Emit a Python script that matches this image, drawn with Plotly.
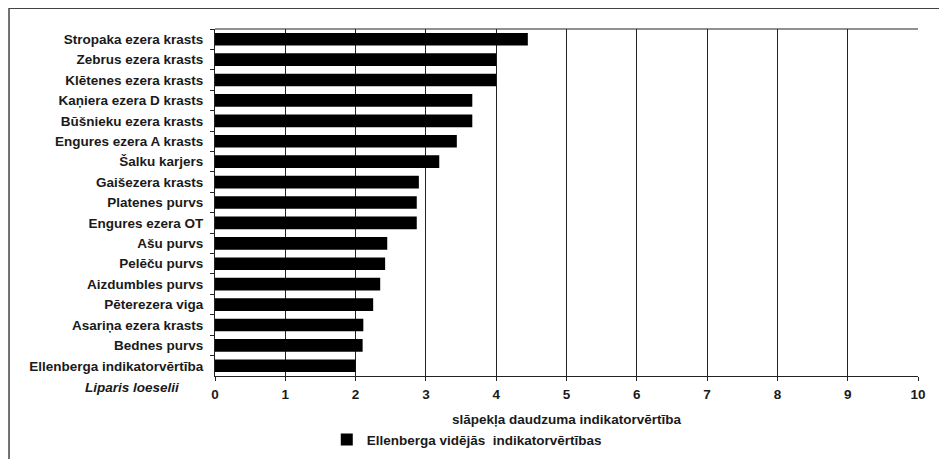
import plotly.graph_objects as go

# Data (top to bottom as shown)
sites = [
    "Stropaka ezera krasts",
    "Zebrus ezera krasts",
    "Klētenes ezera krasts",
    "Kaņiera ezera D krasts",
    "Būšnieku ezera krasts",
    "Engures ezera A krasts",
    "Šalku karjers",
    "Gaišezera krasts",
    "Platenes purvs",
    "Engures ezera OT",
    "Ašu purvs",
    "Pelēču purvs",
    "Aizdumbles purvs",
    "Pēterezera viga",
    "Asariņa ezera krasts",
    "Bednes purvs",
    "Ellenberga indikatorvērtība",
]
values = [4.45, 4.0, 4.0, 3.66, 3.66, 3.44, 3.19, 2.90, 2.87, 2.87,
          2.45, 2.42, 2.35, 2.25, 2.11, 2.10, 2.0]
x_ticks = [0, 1, 2, 3, 4, 5, 6, 7, 8, 9, 10]
series_name = "Ellenberga vidējās  indikatorvērtības"
x_title = "slāpekļa daudzuma indikatorvērtība"
species_note = "Liparis loeselii"

FONT = "Liberation Sans, Arial, sans-serif"
TXT = "#1a1a1a"
FS = 13.5

fig = go.Figure()
fig.add_trace(go.Bar(
    y=sites, x=values, orientation="h",
    marker=dict(color="black", line=dict(width=0)),
    width=0.62, name=series_name, showlegend=True,
))

fig.update_layout(
    template="none",
    width=947, height=459,
    margin=dict(l=207, r=37, t=21, b=87, pad=0),
    paper_bgcolor="white", plot_bgcolor="white",
    font=dict(family=FONT, size=FS, color=TXT),
    showlegend=True,
    legend=dict(
        orientation="h", x=0.159, xanchor="left", y=-0.139, yanchor="top",
        font=dict(family=FONT, size=FS, color=TXT, weight="bold"),
        itemwidth=30, bgcolor="rgba(0,0,0,0)", borderwidth=0,
    ),
    xaxis=dict(
        range=[0, 10], tickvals=x_ticks, ticktext=[str(t) for t in x_ticks],
        showgrid=True, gridcolor="#222", gridwidth=1,
        showline=True, linecolor="#222", linewidth=1,
        ticks="outside", ticklen=4, tickcolor="#222", tickwidth=1,
        ticklabelstandoff=2,
        tickfont=dict(family=FONT, size=FS, color=TXT, weight="bold"),
        zeroline=False, mirror=False, automargin=False,
        title=dict(text=x_title, standoff=13,
                   font=dict(family=FONT, size=FS, color=TXT, weight="bold")),
    ),
    yaxis=dict(
        type="category", categoryorder="array", categoryarray=sites,
        autorange="reversed",
        showgrid=False, showline=True, linecolor="#222", linewidth=1,
        ticks="outside", ticklen=4, tickcolor="#222", tickwidth=1,
        tickson="boundaries", ticklabelstandoff=8,
        tickfont=dict(family=FONT, size=FS, color=TXT, weight="bold"),
        zeroline=False, automargin=False,
    ),
    bargap=0.4,
)

# top border of plot area
fig.add_shape(type="line", xref="paper", yref="paper", x0=0, x1=1, y0=1, y1=1,
              line=dict(color="#222", width=1))

# species note below the last label
fig.add_annotation(text=species_note, xref="paper", yref="paper",
                   x=-0.118, y=-0.034, xanchor="center", yanchor="middle",
                   showarrow=False,
                   font=dict(family=FONT, size=FS, color=TXT, style="italic", weight="bold"))

# outer frame (cropped)
fig.add_shape(type="path", xref="paper", yref="paper",
              path="M -0.293 -0.3 L -0.293 1.06 L 1.1 1.06",
              line=dict(color="#444", width=1.5))

fig.write_html("out.html")
